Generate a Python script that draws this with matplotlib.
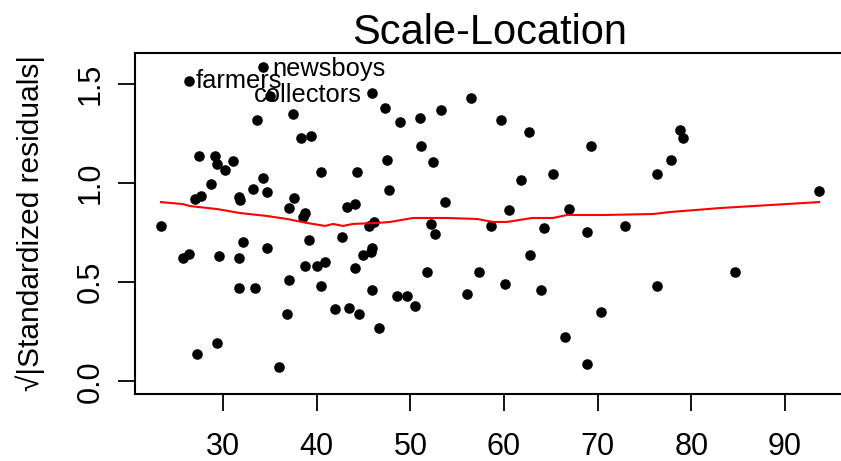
import numpy as np
import matplotlib.pyplot as plt

plt.rcParams['font.family'] = ['Liberation Sans', 'DejaVu Sans']

# fitted values and sqrt(|standardized residuals|)
fitted = [26.37, 34.27, 35.02, 33.63, 37.47, 38.33, 39.39, 27.44, 29.15, 29.36,
          31.07, 30.21, 40.46, 28.72, 34.27, 33.20, 34.70, 27.01, 27.65, 31.71,
          31.80, 37.58, 37.05, 38.54, 38.75, 45.91, 47.29, 48.90, 51.03, 53.27,
          56.48, 59.68, 62.67, 51.14, 47.51, 52.42, 44.31, 61.81, 47.72, 53.70,
          43.24, 44.09, 60.53, 69.29, 78.79, 79.11, 77.83, 65.23, 76.33, 93.63,
          66.94, 23.38, 32.14, 34.70, 39.18, 42.70, 25.73, 26.37, 29.57, 31.71,
          38.75, 40.04, 40.89, 37.05, 31.71, 33.42, 40.46, 41.96, 36.83, 29.36,
          27.22, 35.98, 45.59, 46.12, 52.21, 52.63, 58.61, 45.91, 45.80, 44.95,
          44.09, 51.78, 57.33, 60.11, 62.77, 45.91, 48.58, 49.64, 50.50, 56.05,
          43.45, 44.52, 46.65, 64.27, 68.86, 72.92, 63.95, 76.33, 84.66, 70.35,
          66.51, 68.86]
sqrt_std_resid = [1.515, 1.586, 1.435, 1.315, 1.345, 1.224, 1.234, 1.134, 1.134, 1.094,
                  1.109, 1.064, 1.054, 0.993, 1.024, 0.968, 0.953, 0.918, 0.933, 0.928,
                  0.913, 0.923, 0.873, 0.828, 0.848, 1.455, 1.375, 1.305, 1.325, 1.365,
                  1.425, 1.315, 1.254, 1.184, 1.114, 1.104, 1.054, 1.014, 0.963, 0.903,
                  0.878, 0.893, 0.863, 1.184, 1.264, 1.224, 1.114, 1.044, 1.044, 0.958,
                  0.868, 0.783, 0.702, 0.672, 0.712, 0.728, 0.622, 0.642, 0.632, 0.622,
                  0.582, 0.582, 0.602, 0.512, 0.472, 0.472, 0.482, 0.366, 0.341, 0.191,
                  0.140, 0.070, 0.783, 0.803, 0.793, 0.743, 0.783, 0.672, 0.652, 0.637,
                  0.572, 0.552, 0.552, 0.492, 0.637, 0.462, 0.432, 0.432, 0.381, 0.442,
                  0.371, 0.341, 0.271, 0.773, 0.753, 0.783, 0.462, 0.482, 0.552, 0.351,
                  0.221, 0.090]

# smoothed trend
smooth_x = [23.38, 25.73, 26.48, 29.36, 31.81, 34.70, 36.83, 38.97, 40.89, 41.74,
            42.81, 43.88, 46.44, 47.83, 50.28, 53.91, 57.12, 58.82, 60.32, 62.99,
            65.23, 66.72, 70.57, 75.91, 77.72, 83.06, 93.63]
smooth_y = [0.903, 0.893, 0.883, 0.868, 0.848, 0.833, 0.818, 0.798, 0.783, 0.793,
            0.783, 0.793, 0.798, 0.803, 0.823, 0.823, 0.818, 0.803, 0.803, 0.823,
            0.823, 0.838, 0.838, 0.843, 0.853, 0.873, 0.903]

# labelled observations: (name, text x, text y)
labels = [('farmers', 27.12, 1.515), ('newsboys', 35.23, 1.575), ('collectors', 33.31, 1.44)]

fig = plt.figure(figsize=(8.41, 4.61), dpi=100)
ax = fig.add_axes([135/841, 67/461, 710/841, 341/461])

ax.scatter(fitted, sqrt_std_resid, s=58, color='black', zorder=2, linewidths=0)
ax.plot(smooth_x, smooth_y, color='red', lw=1.5, zorder=3)
for name, tx, ty in labels:
    ax.text(tx, ty, name, fontsize=18.4, ha='left', va='center', zorder=4)

ax.set_xlim(20.6, 96.4)
ax.set_ylim(-0.0636, 1.654)
ax.set_xticks([30, 40, 50, 60, 70, 80, 90])
ax.set_yticks([0.0, 0.5, 1.0, 1.5])
ax.set_yticklabels(['0.0', '0.5', '1.0', '1.5'], rotation=90, va='center')
ax.tick_params(axis='both', labelsize=22, length=12, width=1.3, direction='out')
ax.tick_params(axis='x', pad=15)
ax.tick_params(axis='y', pad=9)
for sp in ax.spines.values():
    sp.set_linewidth(1.5)

ax.set_title('Scale-Location', fontsize=30, pad=6.5)
fig.text(30/841, 1 - 223/461, '√|Standardized residuals|', fontsize=21.5,
         rotation=90, ha='center', va='center')

fig.savefig('out.png', dpi=100)
